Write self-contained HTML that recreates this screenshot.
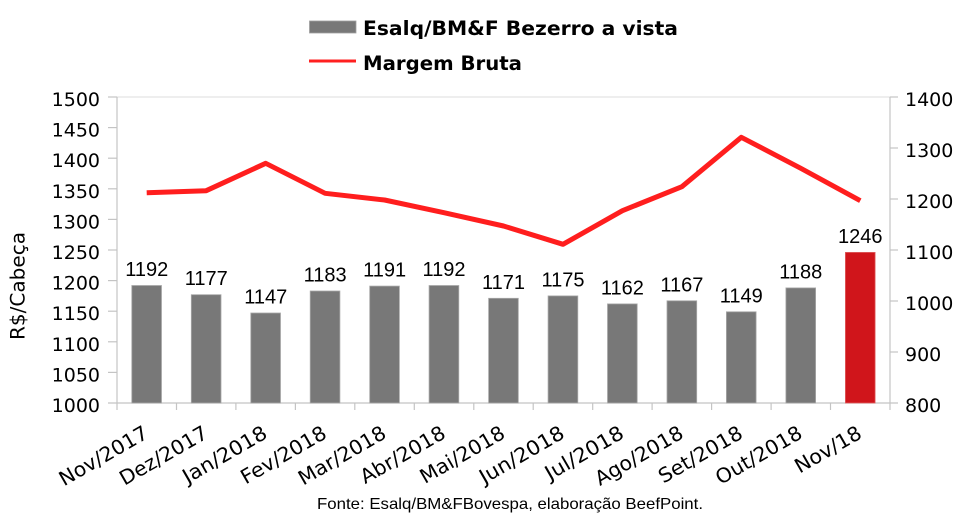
<!DOCTYPE html>
<html><head><meta charset="utf-8"><style>
html,body{margin:0;padding:0;background:#fff;}
svg{display:block;}
</style></head><body>
<svg width="958" height="525" viewBox="0 0 958 525" xmlns="http://www.w3.org/2000/svg">
<rect width="958" height="525" fill="#fff"/>
<!-- legend -->
<rect x="309.5" y="21" width="46.5" height="12" fill="#787878" stroke="#a0a0a0" stroke-width="0.8"/>
<text x="363" y="35" font-family="'DejaVu Sans','Liberation Sans',sans-serif" font-weight="bold" font-size="19.5" textLength="315" lengthAdjust="spacingAndGlyphs" fill="#000">Esalq/BM&amp;F Bezerro a vista</text>
<line x1="309" y1="61" x2="356" y2="61" stroke="#ff2020" stroke-width="3"/>
<text x="363" y="70" font-family="'DejaVu Sans','Liberation Sans',sans-serif" font-weight="bold" font-size="19.5" textLength="159" lengthAdjust="spacingAndGlyphs" fill="#000">Margem Bruta</text>

<!-- plot top border -->
<line x1="117" y1="97" x2="890" y2="97" stroke="#dcdcdc" stroke-width="1"/>
<!-- axes -->
<g stroke="#c4c4c4" stroke-width="1.2" fill="none">
<line x1="117" y1="97" x2="117" y2="403"/>
<line x1="890" y1="97" x2="890" y2="403"/>
<line x1="108" y1="403" x2="898" y2="403"/>
<line x1="108" y1="97" x2="117" y2="97"/>
<line x1="108" y1="127.6" x2="117" y2="127.6"/>
<line x1="108" y1="158.2" x2="117" y2="158.2"/>
<line x1="108" y1="188.8" x2="117" y2="188.8"/>
<line x1="108" y1="219.4" x2="117" y2="219.4"/>
<line x1="108" y1="250" x2="117" y2="250"/>
<line x1="108" y1="280.6" x2="117" y2="280.6"/>
<line x1="108" y1="311.2" x2="117" y2="311.2"/>
<line x1="108" y1="341.8" x2="117" y2="341.8"/>
<line x1="108" y1="372.4" x2="117" y2="372.4"/>
<line x1="890" y1="97" x2="898" y2="97"/>
<line x1="890" y1="148" x2="898" y2="148"/>
<line x1="890" y1="199" x2="898" y2="199"/>
<line x1="890" y1="250" x2="898" y2="250"/>
<line x1="890" y1="301" x2="898" y2="301"/>
<line x1="890" y1="352" x2="898" y2="352"/>
<line x1="117" y1="403" x2="117" y2="410"/>
<line x1="176.5" y1="403" x2="176.5" y2="410"/>
<line x1="235.9" y1="403" x2="235.9" y2="410"/>
<line x1="295.4" y1="403" x2="295.4" y2="410"/>
<line x1="354.8" y1="403" x2="354.8" y2="410"/>
<line x1="414.3" y1="403" x2="414.3" y2="410"/>
<line x1="473.8" y1="403" x2="473.8" y2="410"/>
<line x1="533.2" y1="403" x2="533.2" y2="410"/>
<line x1="592.7" y1="403" x2="592.7" y2="410"/>
<line x1="652.1" y1="403" x2="652.1" y2="410"/>
<line x1="711.6" y1="403" x2="711.6" y2="410"/>
<line x1="771.1" y1="403" x2="771.1" y2="410"/>
<line x1="830.5" y1="403" x2="830.5" y2="410"/>
<line x1="890" y1="403" x2="890" y2="410"/>
</g>

<!-- left tick labels -->
<g font-family="'DejaVu Sans','Liberation Sans',sans-serif" font-size="19" fill="#000" text-anchor="end">
<text x="100" y="106">1500</text>
<text x="100" y="136.6">1450</text>
<text x="100" y="167.2">1400</text>
<text x="100" y="197.8">1350</text>
<text x="100" y="228.4">1300</text>
<text x="100" y="259">1250</text>
<text x="100" y="289.6">1200</text>
<text x="100" y="320.2">1150</text>
<text x="100" y="350.8">1100</text>
<text x="100" y="381.4">1050</text>
<text x="100" y="412">1000</text>
</g>
<!-- right tick labels -->
<g font-family="'DejaVu Sans','Liberation Sans',sans-serif" font-size="19" fill="#000" text-anchor="start">
<text x="905" y="106">1400</text>
<text x="905" y="157">1300</text>
<text x="905" y="208">1200</text>
<text x="905" y="259">1100</text>
<text x="905" y="310">1000</text>
<text x="905" y="361">900</text>
<text x="905" y="412">800</text>
</g>
<!-- y title -->
<text transform="translate(24.5,286) rotate(-90)" text-anchor="middle" font-family="'DejaVu Sans','Liberation Sans',sans-serif" font-size="19.5" textLength="108" lengthAdjust="spacingAndGlyphs" fill="#000">R$/Cabeça</text>

<!-- bars -->
<g fill="#787878" stroke="#a8a8a8" stroke-width="0.8">
<rect x="131.8" y="285.5" width="29.7" height="117.5"/>
<rect x="191.3" y="294.7" width="29.7" height="108.3"/>
<rect x="250.8" y="313" width="29.7" height="90"/>
<rect x="310.2" y="291" width="29.7" height="112"/>
<rect x="369.7" y="286.1" width="29.7" height="116.9"/>
<rect x="429.1" y="285.5" width="29.7" height="117.5"/>
<rect x="488.6" y="298.3" width="29.7" height="104.7"/>
<rect x="548.1" y="295.9" width="29.7" height="107.1"/>
<rect x="607.5" y="303.9" width="29.7" height="99.1"/>
<rect x="667" y="300.8" width="29.7" height="102.2"/>
<rect x="726.4" y="311.8" width="29.7" height="91.2"/>
<rect x="785.9" y="287.9" width="29.7" height="115.1"/>
</g>
<rect x="845.4" y="252.4" width="29.7" height="150.6" fill="#d0151b" stroke="#e06060" stroke-width="0.8"/>

<!-- data labels -->
<g font-family="'Liberation Sans',Arial,sans-serif" font-size="20" fill="#000" text-anchor="middle">
<text x="146.7" y="276">1192</text>
<text x="206.2" y="285.2">1177</text>
<text x="265.7" y="303.5">1147</text>
<text x="325.1" y="281.5">1183</text>
<text x="384.6" y="276.6">1191</text>
<text x="444" y="276">1192</text>
<text x="503.5" y="288.8">1171</text>
<text x="563" y="286.4">1175</text>
<text x="622.4" y="294.4">1162</text>
<text x="681.9" y="291.3">1167</text>
<text x="741.3" y="302.3">1149</text>
<text x="800.8" y="278.4">1188</text>
<text x="860.3" y="242.9">1246</text>
</g>

<!-- line -->
<polyline fill="none" stroke="#ff1e1e" stroke-width="5" stroke-linejoin="round" stroke-linecap="butt"
points="146.7,192.7 206.2,190.7 265.7,163.3 325.1,193.3 384.6,200 444,212.7 503.5,226 563,244.3 622.4,210.7 681.9,186.7 741.3,137.3 800.8,168.3 860.3,200.7"/>

<!-- x labels -->
<g font-family="'DejaVu Sans','Liberation Sans',sans-serif" font-size="20" fill="#000" text-anchor="end" lengthAdjust="spacingAndGlyphs">
<text transform="translate(149.7,437) rotate(-30)" textLength="98.9" lengthAdjust="spacingAndGlyphs">Nov/2017</text>
<text transform="translate(209.2,437) rotate(-30)" textLength="97.8" lengthAdjust="spacingAndGlyphs">Dez/2017</text>
<text transform="translate(268.7,437) rotate(-30)" textLength="93.8" lengthAdjust="spacingAndGlyphs">Jan/2018</text>
<text transform="translate(328.1,437) rotate(-30)" textLength="95.2" lengthAdjust="spacingAndGlyphs">Fev/2018</text>
<text transform="translate(387.6,437) rotate(-30)" textLength="97.4" lengthAdjust="spacingAndGlyphs">Mar/2018</text>
<text transform="translate(447,437) rotate(-30)" textLength="94.6" lengthAdjust="spacingAndGlyphs">Abr/2018</text>
<text transform="translate(506.5,437) rotate(-30)" textLength="94.3" lengthAdjust="spacingAndGlyphs">Mai/2018</text>
<text transform="translate(566,437) rotate(-30)" textLength="94.4" lengthAdjust="spacingAndGlyphs">Jun/2018</text>
<text transform="translate(625.4,437) rotate(-30)" textLength="87.2" lengthAdjust="spacingAndGlyphs">Jul/2018</text>
<text transform="translate(684.9,437) rotate(-30)" textLength="98.2" lengthAdjust="spacingAndGlyphs">Ago/2018</text>
<text transform="translate(744.3,437) rotate(-30)" textLength="93.4" lengthAdjust="spacingAndGlyphs">Set/2018</text>
<text transform="translate(803.8,437) rotate(-30)" textLength="96.2" lengthAdjust="spacingAndGlyphs">Out/2018</text>
<text transform="translate(863.3,437) rotate(-30)" textLength="73.5" lengthAdjust="spacingAndGlyphs">Nov/18</text>
</g>

<!-- footer -->
<text x="317" y="509" font-family="'Liberation Sans',Arial,sans-serif" font-size="16" textLength="386" lengthAdjust="spacingAndGlyphs" fill="#000">Fonte: Esalq/BM&amp;FBovespa, elaboração BeefPoint.</text>
</svg>
</body></html>
